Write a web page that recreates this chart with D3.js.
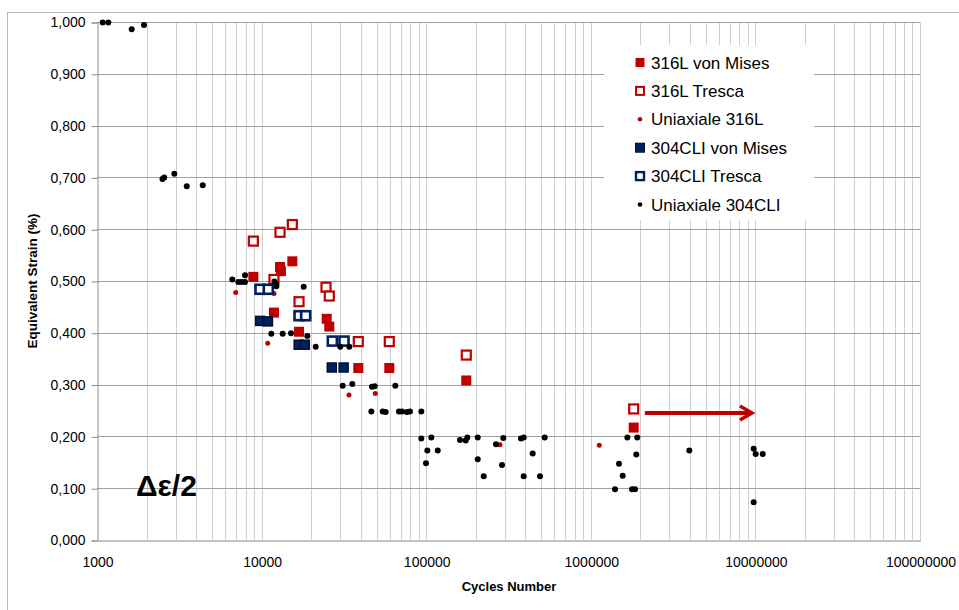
<!DOCTYPE html>
<html><head><meta charset="utf-8">
<script src="https://cdn.jsdelivr.net/npm/d3@7/dist/d3.min.js"></script>
<style>body{margin:0;background:#fff}svg{display:block}text{font-family:"Liberation Sans",Arial,sans-serif}</style>
</head><body><svg id="c" width="959" height="610"></svg>
<script>
// ---- data ----
const vonMises316 = [[15370,0.538],[12940,0.527],[13100,0.519],[8910,0.508],[11890,0.439],[24860,0.427],[25780,0.412],[16880,0.402],[38680,0.332],[59680,0.332],[175200,0.308],[1822000,0.217]];
const tresca316 = [[15370,0.609],[12940,0.594],[8910,0.577],[11890,0.503],[24620,0.488],[25780,0.471],[16880,0.460],[38680,0.383],[59680,0.383],[175200,0.357],[1822000,0.253]];
const uniaxiale316 = [[6960,0.478],[11890,0.476],[10890,0.380],[33960,0.280],[49070,0.283],[280700,0.184],[1126000,0.183]];
const vonMises304 = [[9800,0.423],[10930,0.422],[16800,0.377],[18300,0.377],[26700,0.333],[31500,0.333]];
const tresca304 = [[9780,0.484],[10980,0.484],[16880,0.433],[18530,0.433],[26900,0.384],[31670,0.384]];
const uniaxiale304 = [[1083,0.999],[1171,0.999],[1625,0.986],[1930,0.994],[2500,0.697],[2560,0.700],[2950,0.707],[3510,0.683],[4390,0.685],
 [6640,0.503],[7220,0.498],[7570,0.498],[7930,0.498],[7930,0.511],[11960,0.499],[12180,0.494],[12300,0.490],[18020,0.489],
 [11460,0.398],[13430,0.398],[15090,0.399],[18950,0.394],[21320,0.373],[30060,0.373],[34110,0.373],
 [31100,0.298],[35560,0.301],[46850,0.296],[48640,0.297],[64920,0.298],
 [46420,0.248],[54420,0.248],[56750,0.247],[68340,0.248],[71280,0.248],[76410,0.247],[79700,0.248],[93400,0.248],
 [93400,0.196],[107400,0.198],[101600,0.173],[117500,0.173],[99700,0.148],[160500,0.193],[173800,0.192],[177700,0.198],
 [205600,0.198],[205600,0.156],[223600,0.123],[265500,0.185],[294000,0.197],[288800,0.145],[376600,0.196],[391200,0.198],
 [391200,0.123],[443600,0.167],[491300,0.123],[524800,0.198],
 [1667000,0.198],[1916000,0.198],[1890000,0.165],[1484000,0.147],[1562000,0.124],[1403000,0.098],[1780000,0.098],[1855000,0.098],
 [3967000,0.173],[9763000,0.176],[10040000,0.166],[11080000,0.166],[9763000,0.073]];
const arrowFrom = [2130000,0.245], arrowTo = [9530000,0.245];
const yTicks = [0,0.1,0.2,0.3,0.4,0.5,0.6,0.7,0.8,0.9,1.0];
const xTicks = [1000,10000,100000,1000000,10000000,100000000];
const legendNames = ["316L von Mises","316L Tresca","Uniaxiale 316L","304CLI von Mises","304CLI Tresca","Uniaxiale 304CLI"];

const RED="#c00000", BLUE="#002060";
const svg = d3.select("#c");
const x = d3.scaleLog().domain([1000,1e8]).range([97,920]);
const y = d3.scaleLinear().domain([0,1]).range([540,22]);

// outer border
svg.append("rect").attr("x",7.5).attr("y",12.5).attr("width",1000).attr("height",1000).attr("fill","none").attr("stroke","#b5b5b5");

// vertical grid
const minor=[];
for(let p=3;p<8;p++) for(let k=1;k<10;k++) minor.push(k*Math.pow(10,p));
minor.push(1e8);
svg.append("g").selectAll("line").data(minor.filter(v=>v>1000)).join("line")
 .attr("x1",d=>Math.round(x(d))+0.5).attr("x2",d=>Math.round(x(d))+0.5).attr("y1",y(1)).attr("y2",y(0))
 .attr("stroke","#cfcfcf").attr("stroke-width",1);
// horizontal grid
svg.append("g").selectAll("line").data(yTicks.filter(v=>v>0)).join("line")
 .attr("x1",x(1000)).attr("x2",x(1e8)).attr("y1",d=>Math.round(y(d))+0.5).attr("y2",d=>Math.round(y(d))+0.5)
 .attr("stroke","#a0a0a0").attr("stroke-width",1);

// axes
const yAx = d3.axisLeft(y).tickValues(yTicks).tickSize(6).tickPadding(6).tickFormat(d=>d.toFixed(3).replace(".",","));
const gy = svg.append("g").attr("transform",`translate(${x(1000)+0.5},0.5)`).call(yAx);
const xAx = d3.axisBottom(x).tickValues(xTicks).tickSize(0).tickPadding(17).tickFormat(d=>String(d));
const gx = svg.append("g").attr("transform",`translate(0.5,${y(0)+0.5})`).call(xAx);
[gy,gx].forEach(g=>{g.selectAll(".domain").attr("stroke","#8c8c8c");g.selectAll(".tick line").attr("stroke","#8c8c8c");
 g.selectAll("text").attr("font-size",14).attr("fill","#000").attr("font-family","'Liberation Sans',Arial,sans-serif");});

svg.append("text").attr("x",509).attr("y",591).attr("text-anchor","middle").attr("font-weight","bold").attr("font-size",13).text("Cycles Number");
svg.append("text").attr("transform",`translate(37,${(y(0)+y(1))/2}) rotate(-90)`).attr("text-anchor","middle").attr("font-weight","bold").attr("font-size",13.5).text("Equivalent Strain (%)");

// series
const S=10;
svg.append("g").selectAll("rect").data(vonMises316).join("rect")
 .attr("x",d=>x(d[0])-S/2).attr("y",d=>y(d[1])-S/2).attr("width",S).attr("height",S).attr("fill",RED);
svg.append("g").selectAll("rect").data(tresca316).join("rect")
 .attr("x",d=>x(d[0])-4.5).attr("y",d=>y(d[1])-4.5).attr("width",9).attr("height",9).attr("fill","#fff").attr("stroke",RED).attr("stroke-width",2.2);
svg.append("g").selectAll("circle").data(uniaxiale316).join("circle")
 .attr("cx",d=>x(d[0])).attr("cy",d=>y(d[1])).attr("r",2.5).attr("fill",RED);
svg.append("g").selectAll("rect").data(vonMises304).join("rect")
 .attr("x",d=>x(d[0])-4.5).attr("y",d=>y(d[1])-4.5).attr("width",9).attr("height",9).attr("fill",BLUE).attr("stroke","#001030").attr("stroke-width",1.5);
svg.append("g").selectAll("rect").data(tresca304).join("rect")
 .attr("x",d=>x(d[0])-4.5).attr("y",d=>y(d[1])-4.5).attr("width",9).attr("height",9).attr("fill","#fff").attr("stroke",BLUE).attr("stroke-width",2.6);
svg.append("g").selectAll("circle").data(uniaxiale304).join("circle")
 .attr("cx",d=>x(d[0])).attr("cy",d=>y(d[1])).attr("r",3).attr("fill","#000");

// arrow
const ax1=x(arrowFrom[0]), ay=y(arrowFrom[1]), ax2=x(arrowTo[0]);
svg.append("line").attr("x1",ax1).attr("x2",ax2-2).attr("y1",ay).attr("y2",ay).attr("stroke",RED).attr("stroke-width",4);
svg.append("path").attr("d",`M${ax2-12},${ay-7}L${ax2},${ay}L${ax2-12},${ay+7}`).attr("fill","none").attr("stroke",RED).attr("stroke-width",3.5);

// delta label
svg.append("text").attr("x",136).attr("y",496).attr("font-size",30).attr("font-weight","bold").attr("font-family","'DejaVu Sans',sans-serif").text("Δε/2");

// legend
const lg = svg.append("g");
lg.append("rect").attr("x",604).attr("y",45).attr("width",210).attr("height",175).attr("fill","#fff");
const ly0=62.5, ldy=28.4, lmx=640;
legendNames.forEach((n,i)=>{
 const yy=ly0+i*ldy;
 if(i===0) lg.append("rect").attr("x",lmx-4.5).attr("y",yy-4.5).attr("width",9).attr("height",9).attr("fill",RED);
 if(i===1) lg.append("rect").attr("x",lmx-4).attr("y",yy-4).attr("width",8).attr("height",8).attr("fill","#fff").attr("stroke",RED).attr("stroke-width",2);
 if(i===2) lg.append("circle").attr("cx",lmx).attr("cy",yy).attr("r",2.3).attr("fill",RED);
 if(i===3) lg.append("rect").attr("x",lmx-4.5).attr("y",yy-4.5).attr("width",9).attr("height",9).attr("fill",BLUE).attr("stroke","#001030").attr("stroke-width",1);
 if(i===4) lg.append("rect").attr("x",lmx-4).attr("y",yy-4).attr("width",8).attr("height",8).attr("fill","#fff").attr("stroke",BLUE).attr("stroke-width",2.4);
 if(i===5) lg.append("circle").attr("cx",lmx).attr("cy",yy).attr("r",2.3).attr("fill","#000");
 lg.append("text").attr("x",651).attr("y",yy).attr("dy","0.36em").attr("font-size",17).text(n);
});
</script></body></html>
